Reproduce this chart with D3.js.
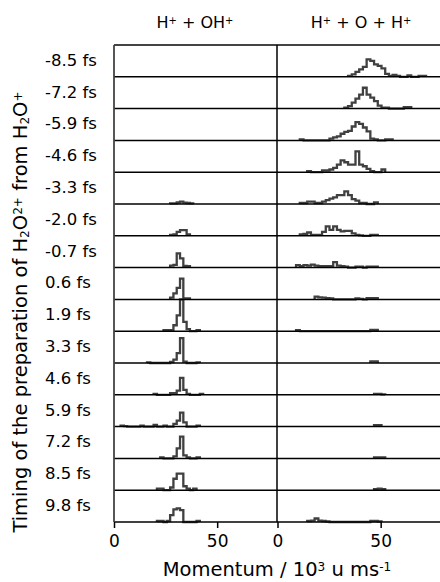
<!DOCTYPE html>
<html>
<head>
<meta charset="utf-8">
<script src="https://cdn.jsdelivr.net/npm/d3@7"></script>
<style>
  body { margin: 0; background: #fff; }
  text { font-family: "DejaVu Sans", sans-serif; fill: #000; }
</style>
</head>
<body>
<svg id="chart" width="440" height="582"></svg>
<script>
// delay labels, top to bottom
var delays = ["-8.5 fs", "-7.2 fs", "-5.9 fs", "-4.6 fs", "-3.3 fs", "-2.0 fs", "-0.7 fs",
              "0.6 fs", "1.9 fs", "3.3 fs", "4.6 fs", "5.9 fs", "7.2 fs", "8.5 fs", "9.8 fs"];
var momentumTicks = [0, 50];

// histogram bins (10^3 u m/s); each row = first bin start + consecutive counts
var leftBin = 1.6;
var leftStart = [0, 0, 0, 0, 27.2, 27.2, 27.2, 27.2, 24, 16, 19.2, 3.2, 22.4, 20.8, 20.8];
var leftCounts = [
  [], [], [], [],
  [0.7, 0.7, 1.5, 2.3, 1.3, 1, 0.7],
  [1, 1.3, 4, 5.7, 5.7, 1.3],
  [2, 2.7, 14.3, 9.3, 1.7, 1.5],
  [1.7, 6, 11.5, 21, 1, 1],
  [1, 1, 1, 6, 16, 32, 9.3, 2, 0, 0, 1],
  [0.7, 0, 0, 0, 0, 0, 0, 1, 3.3, 10, 25, 1.3, 0, 0, 0, 0.7],
  [1, 0, 0, 0, 0, 1.7, 1.7, 4.3, 17, 5, 1, 0, 0, 0, 1],
  [1, 0.5, 0, 0, 0, 0, 1, 0, 0, 0, 1.7, 0, 0, 1, 0, 0, 2.7, 6, 14, 4.3, 0, 0, 0, 1],
  [1, 0, 0, 0, 2, 10, 22, 3, 1, 0, 0, 1],
  [1.5, 1.5, 0, 0, 2.7, 11.5, 16.7, 16.7, 4, 1.5, 0, 1.5],
  [1, 1, 0, 1, 7, 12.7, 13.7, 12, 0, 0, 0, 0, 1]
];

var rightBin = 1.8;
var rightStart = [34.2, 32.4, 10.8, 14.4, 10.8, 10.8, 9, 18, 9, 45, 46.8, 46.8, 46.8, 46.8, 14.4];
var rightCounts = [
  [1, 2.5, 5, 7.5, 10, 17.5, 16, 12.5, 11, 8.5, 3, 1, 2, 1, 0, 0, 1.5, 0, 0, 1, 1],
  [1, 2.5, 6, 10, 14, 21, 14, 11, 7.5, 3, 1, 1, 0, 0, 0, 0, 1.5, 1.5],
  [1, 0, 0, 0, 0, 0, 0, 0, 1.7, 3, 4, 6.7, 8.5, 9.5, 14, 18.3, 16.7, 13, 9, 1.7, 1, 0, 0, 1, 1],
  [1, 0, 0, 0, 1.7, 1.7, 2.7, 4.3, 7.7, 12, 10, 7.7, 7.7, 21, 7.7, 6, 3.3, 1, 0, 0, 2.7],
  [1, 1, 2.3, 2.3, 1, 1, 2.3, 4, 5.5, 6.7, 9, 9, 12.7, 9, 5, 3.3, 1, 1, 0, 0, 1.7],
  [1.3, 2, 3.3, 1, 1, 1, 4, 9.5, 6, 9.5, 6, 4.5, 5, 5, 2.5, 1, 0.5, 0, 0, 1, 1],
  [2.5, 1.5, 2.5, 2, 3, 2, 1.5, 1.5, 1.5, 1.5, 5.5, 2, 1.5, 1, 0, 0, 1, 1, 0, 1, 1, 1],
  [2.7, 2, 1.7, 1.2, 1, 0, 0, 0, 0, 0, 0, 1, 0.5, 0, 1.3, 1.3, 1.3],
  [1, 0, 0, 0, 0, 0, 0, 0, 0, 0, 0, 0, 0, 0, 0, 0, 0, 0, 0, 0, 1.3, 1.3],
  [1.5, 1.5],
  [1, 1, 0.5],
  [1.5, 1.5],
  [1, 1, 1],
  [1, 1.5, 1],
  [1, 1.3, 3.5, 1.3, 1, 0.5, 0, 0, 0, 0, 0, 0, 0, 0, 0, 0, 0, 1, 1, 0.5]
];

var svg = d3.select("#chart");
var plotTop = 45, plotBottom = 522;

var xLeft = d3.scaleLinear().domain([0, 79]).range([114, 277]);
var xRight = d3.scaleLinear().domain([0, 79]).range([277.5, 440.5]);
var rows = d3.scaleBand().domain(delays).range([plotTop, plotBottom]);
var yCount = d3.scaleLinear().domain([0, 32]).range([0, rows.bandwidth()]);

function histPoints(start, counts, bw) {
  var pts = [[start, 0]];
  counts.forEach(function(c, i) {
    pts.push([start + i * bw, c]);
    pts.push([start + (i + 1) * bw, c]);
  });
  pts.push([start + counts.length * bw, 0]);
  return pts;
}

function drawColumn(x, starts, counts, bw) {
  var g = svg.append("g");
  delays.forEach(function(d, i) {
    if (!counts[i].length) return;
    var base = rows(d) + rows.bandwidth();
    var line = d3.line()
      .x(function(p) { return x(p[0]); })
      .y(function(p) { return base - yCount(p[1]); });
    g.append("path")
      .attr("d", line(histPoints(starts[i], counts[i], bw)))
      .attr("fill", "none")
      .attr("stroke", "#404040")
      .attr("stroke-width", 2.3);
  });
}

drawColumn(xLeft, leftStart, leftCounts, leftBin);
drawColumn(xRight, rightStart, rightCounts, rightBin);

// row separators
svg.append("g").selectAll("line").data(delays)
  .enter().append("line")
    .attr("x1", 114)
    .attr("x2", 440)
    .attr("y1", function(d) { return rows(d) + rows.bandwidth(); })
    .attr("y2", function(d) { return rows(d) + rows.bandwidth(); })
    .attr("stroke", "#000")
    .attr("stroke-width", 1.5);

// frame
svg.append("line").attr("x1", 114).attr("x2", 440).attr("y1", plotTop).attr("y2", plotTop)
  .attr("stroke", "#444").attr("stroke-width", 1.8);
svg.append("line").attr("x1", 114).attr("x2", 114).attr("y1", plotTop).attr("y2", plotBottom)
  .attr("stroke", "#444").attr("stroke-width", 1.8);
svg.append("line").attr("x1", 277).attr("x2", 277).attr("y1", plotTop).attr("y2", plotBottom)
  .attr("stroke", "#000").attr("stroke-width", 1.5);

// bottom axes
[xLeft, xRight].forEach(function(x) {
  var ax = svg.append("g")
    .attr("transform", "translate(0," + plotBottom + ")")
    .call(d3.axisBottom(x).tickValues(momentumTicks).tickSizeOuter(0).tickSize(6).tickPadding(7));
  ax.select(".domain").remove();
  ax.selectAll(".tick line").attr("stroke", "#000").attr("stroke-width", 1.5);
  ax.selectAll(".tick text").attr("font-size", 17).attr("font-family", "DejaVu Sans");
});

// row labels
svg.append("g").selectAll("text").data(delays)
  .enter().append("text")
    .attr("x", 45)
    .attr("y", function(d) { return rows(d) + rows.bandwidth() / 2; })
    .attr("dy", "0.3em")
    .attr("font-size", 16.5)
    .text(function(d) { return d; });

// text with super/subscripts
function supText(sel, parts, size) {
  parts.forEach(function(p) {
    var t = sel.append("tspan").text(p[0]);
    if (p[1] === "sup") t.attr("font-size", size * 0.62).attr("baseline-shift", "45%");
    if (p[1] === "sub") t.attr("font-size", size * 0.62).attr("baseline-shift", "-20%");
  });
}

var t1 = svg.append("text").attr("x", 195).attr("y", 28).attr("text-anchor", "middle").attr("font-size", 16);
supText(t1, [["H"], ["+", "sup"], [" + OH"], ["+", "sup"]], 16);
var t2 = svg.append("text").attr("x", 361).attr("y", 28).attr("text-anchor", "middle").attr("font-size", 16);
supText(t2, [["H"], ["+", "sup"], [" + O + H"], ["+", "sup"]], 16);

var xt = svg.append("text").attr("x", 277).attr("y", 576).attr("text-anchor", "middle").attr("font-size", 19.5);
supText(xt, [["Momentum / 10"], ["3", "sup"], [" u ms"], ["-1", "sup"]], 19.5);

var yt = svg.append("text")
  .attr("transform", "translate(27,312) rotate(-90)")
  .attr("text-anchor", "middle")
  .attr("font-size", 19.5);
supText(yt, [["Timing of the preparation of H"], ["2", "sub"], ["O"], ["2+", "sup"],
             [" from H"], ["2", "sub"], ["O"], ["+", "sup"]], 19.5);
</script>
</body>
</html>
